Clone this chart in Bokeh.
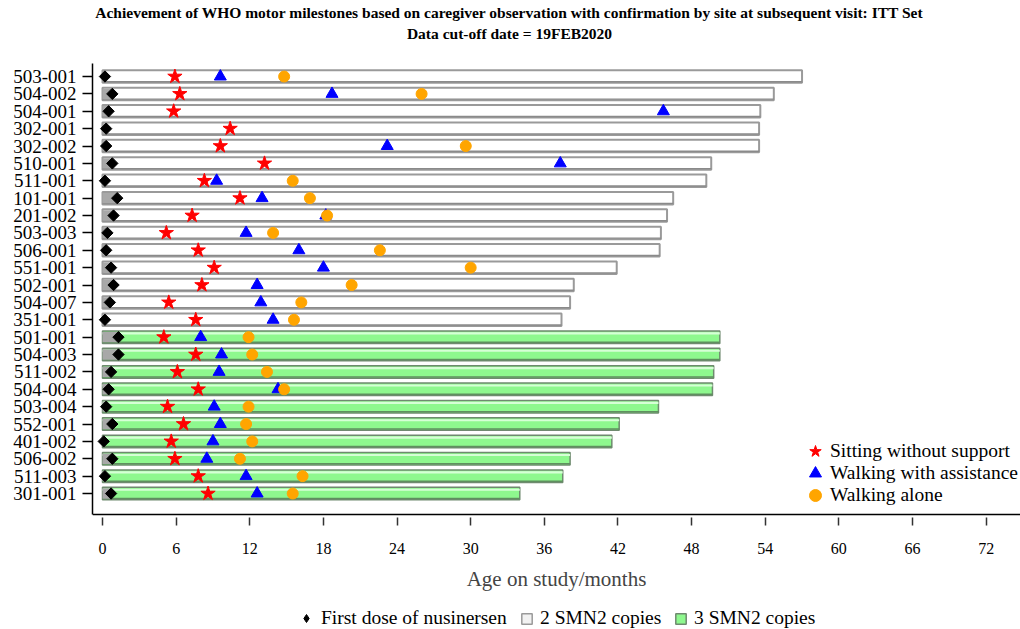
import math
from bokeh.plotting import figure
from bokeh.layouts import column
from bokeh.models import (Range1d, FixedTicker, Span, Legend, LegendItem,
                          ColumnDataSource)
from bokeh.core.properties import value
from bokeh.transform import dodge
from bokeh.embed import file_html
from bokeh.resources import INLINE

NaN = float("nan")

subjects = ["503-001", "504-002", "504-001", "302-001", "302-002", "510-001",
            "511-001", "101-001", "201-002", "503-003", "506-001", "551-001",
            "502-001", "504-007", "351-001", "501-001", "504-003", "511-002",
            "504-004", "503-004", "552-001", "401-002", "506-002", "511-003",
            "301-001"]
smn2_copies = [2, 2, 2, 2, 2, 2, 2, 2, 2, 2, 2, 2, 2, 2, 2,
               3, 3, 3, 3, 3, 3, 3, 3, 3, 3]
first_dose = [0.2, 0.8, 0.5, 0.3, 0.3, 0.8, 0.2, 1.2, 0.9, 0.4, 0.3, 0.7, 0.9,
              0.6, 0.2, 1.3, 1.3, 0.7, 0.5, 0.3, 0.8, 0.1, 0.8, 0.2, 0.7]
sitting = [5.9, 6.3, 5.8, 10.4, 9.6, 13.2, 8.3, 11.2, 7.3, 5.2, 7.8, 9.1, 8.1,
           5.4, 7.6, 5.0, 7.6, 6.1, 7.8, 5.3, 6.6, 5.6, 5.9, 7.8, 8.6]
walk_assist = [9.6, 18.7, 45.7, NaN, 23.2, 37.3, 9.3, 13.0, 18.2, 11.7, 16.0,
               18.0, 12.6, 12.9, 13.9, 8.0, 9.7, 9.5, 14.3, 9.1, 9.6, 9.0, 8.5,
               11.7, 12.6]
walk_alone = [14.8, 26.0, NaN, NaN, 29.6, NaN, 15.5, 16.9, 18.3, 13.9, 22.6,
              30.0, 20.3, 16.2, 15.6, 11.9, 12.2, 13.4, 14.8, 11.9, 11.7, 12.2,
              11.2, 16.3, 15.5]
age_end = [57.0, 54.7, 53.6, 53.5, 53.5, 49.6, 49.2, 46.5, 46.0, 45.5, 45.4,
           41.9, 38.4, 38.1, 37.4, 50.3, 50.3, 49.8, 49.7, 45.3, 42.1, 41.5,
           38.1, 37.5, 34.0]
x_ticks = [0, 6, 12, 18, 24, 30, 36, 42, 48, 54, 60, 66, 72]

title_lines = [("Achievement of WHO motor milestones based on caregiver "
                "observation with confirmation by site at subsequent visit: "
                "ITT Set"),
               "Data cut-off date = 19FEB2020"]

FONT = "Liberation Serif"
W = 1020
LEFT = 92          # frame left edge (pixels); strips share it in the column
rows = list(range(len(subjects)))


def bare(fig):
    fig.axis.visible = False
    fig.grid.visible = False
    fig.outline_line_color = None
    fig.background_fill_color = "white"
    fig.border_fill_color = "white"


# ---------------- title strip (pixel-like coordinates) ----------------
pt = figure(width=W, height=50, x_range=Range1d(LEFT, W),
            y_range=Range1d(50, 0), output_backend="svg",
            toolbar_location=None, title=None, min_border=0)
bare(pt)
pt.text(x=[509, 509], y=[12, 33], text=title_lines, text_align="center",
        text_baseline="middle", text_font=value(FONT), text_font_size="15.5px",
        text_font_style="bold", text_color="black")

# ---------------- main chart ----------------
src = ColumnDataSource(dict(y=rows, subj=subjects, copies=smn2_copies,
                            dose=first_dose, sit=sitting, wa=walk_assist,
                            alone=walk_alone, end=age_end))
two = [i for i in rows if smn2_copies[i] == 2]
three = [i for i in rows if smn2_copies[i] == 3]
src2 = ColumnDataSource(dict(y=two, end=[age_end[i] for i in two]))
src3 = ColumnDataSource(dict(y=three, end=[age_end[i] for i in three]))

p = figure(width=W, height=550, x_range=Range1d(-0.815, 74.8),
           y_range=Range1d(25.84, -0.75), output_backend="svg",
           toolbar_location=None, title=None,
           min_border_left=LEFT, min_border_right=0, min_border_top=13,
           min_border_bottom=75)
p.outline_line_color = None
p.grid.visible = False
p.background_fill_color = "white"
p.border_fill_color = "white"

BAR_H = 0.72
TWO_FILL, TWO_LINE = "#ffffff", "#9a9a9a"
THREE_FILL, THREE_LINE = "#8ef88e", "#6f8a6f"
r2 = p.hbar(y="y", left=0, right="end", height=BAR_H, source=src2,
            fill_color=TWO_FILL, line_color=TWO_LINE, line_width=2)
p.hbar(y=dodge("y", 0.3, range=p.y_range), left=0, right="end", height=0.08,
       source=src2, fill_color="#8a8a8a", line_color=None)
r3 = p.hbar(y="y", left=0, right="end", height=BAR_H, source=src3,
            fill_color=THREE_FILL, line_color=THREE_LINE, line_width=1.5)
p.hbar(y=dodge("y", -0.22, range=p.y_range), left=0, right="end", height=0.12,
       source=src3, fill_color="#d6ffd6", line_color=None)
p.hbar(y=dodge("y", 0.29, range=p.y_range), left=0, right="end", height=0.08,
       source=src3, fill_color="#5f8f5f", line_color=None)
# untreated period before first dose
p.hbar(y="y", left=0, right="dose", height=0.6, source=src,
       fill_color="#a8a8a8", line_color=None)

DOSE_KW = dict(marker="square", angle=math.pi / 4, fill_color="black",
               line_color="black")
r_dose = p.scatter(x="dose", y="y", source=src, size=8, **DOSE_KW)
r_sit = p.scatter(x="sit", y="y", source=src, marker="star", size=15,
                  fill_color="#ff0000", line_color="#ff0000")
r_wa = p.scatter(x="wa", y="y", source=src, marker="triangle", size=12,
                 fill_color="#0000ff", line_color="#0000ff")
r_alone = p.scatter(x="alone", y="y", source=src, marker="circle", size=11,
                    fill_color="#ffa500", line_color="#ffa500")

# bottom frame line
p.add_layout(Span(location=25.21, dimension="width", line_color="black",
                  line_width=1.5))

xa = p.xaxis[0]
xa.ticker = FixedTicker(ticks=x_ticks)
xa.axis_line_color = None
xa.major_tick_in = 8
xa.major_tick_out = 0
xa.minor_tick_line_color = None
xa.major_tick_line_width = 1.5
xa.major_tick_line_color = "#333333"
xa.major_label_standoff = 17
xa.major_label_text_font = FONT
xa.major_label_text_font_size = "16px"
xa.major_label_text_color = "black"
xa.axis_label = "Age on study/months"
xa.axis_label_text_font = FONT
xa.axis_label_text_font_size = "21px"
xa.axis_label_text_font_style = "normal"
xa.axis_label_standoff = 10

ya = p.yaxis[0]
ya.ticker = FixedTicker(ticks=rows)
ya.major_label_overrides = {i: s for i, s in zip(rows, subjects)}
ya.bounds = (-0.75, 25.21)
ya.axis_line_width = 1.5
ya.axis_line_color = "black"
ya.major_tick_in = 0
ya.major_tick_out = 10
ya.major_tick_line_width = 1.5
ya.minor_tick_line_color = None
ya.major_label_standoff = 6
ya.major_label_text_font = FONT
ya.major_label_text_font_size = "19px"
ya.major_label_text_color = "black"


def one_item_legend(fig, label, renderer, loc, gw, gh, standoff, fs):
    leg = Legend(items=[LegendItem(label=label, renderers=[renderer])],
                 location=loc, orientation="horizontal",
                 border_line_color=None, background_fill_alpha=0,
                 label_text_font=FONT, label_text_font_size=fs,
                 label_text_color="black",
                 glyph_width=gw, glyph_height=gh, label_standoff=standoff,
                 padding=0, margin=0, spacing=0)
    fig.add_layout(leg, "center")


one_item_legend(p, "Sitting without support", r_sit, (708, 59), 30, 30, 0, "19.5px")
one_item_legend(p, "Walking with assistance", r_wa, (708, 37), 30, 30, 0, "19.5px")
one_item_legend(p, "Walking alone", r_alone, (708, 15), 30, 30, 0, "19.5px")

# ---------------- bottom legend strip ----------------
pl = figure(width=W, height=29, x_range=Range1d(LEFT, W), y_range=Range1d(0, 29),
            output_backend="svg", toolbar_location=None, title=None,
            min_border=0)
bare(pl)
# legend proxies: one undrawable (NaN) row so the legend has style values
proxy = ColumnDataSource(dict(x=[NaN], y=[NaN], r=[NaN]))
l_dose = pl.scatter(x="x", y="y", source=proxy, size=8, marker="diamond",
                    fill_color="black", line_color="black")
l_two = pl.hbar(y="y", left="x", right="r", height=1, source=proxy,
                fill_color="#f2f2f2", line_color=TWO_LINE, line_width=1.5)
l_three = pl.hbar(y="y", left="x", right="r", height=1, source=proxy,
                  fill_color=THREE_FILL, line_color=THREE_LINE, line_width=1.5)

one_item_legend(pl, "First dose of nusinersen", l_dose, (204, 0), 20, 20, 5, "19.5px")
one_item_legend(pl, "2 SMN2 copies", l_two, (428, 0), 13, 13, 7, "19.5px")
one_item_legend(pl, "3 SMN2 copies", l_three, (582, 0), 13, 13, 7, "19.5px")

layout = column(pt, p, pl, spacing=0)
open("out.html", "w").write(file_html(layout, INLINE))
